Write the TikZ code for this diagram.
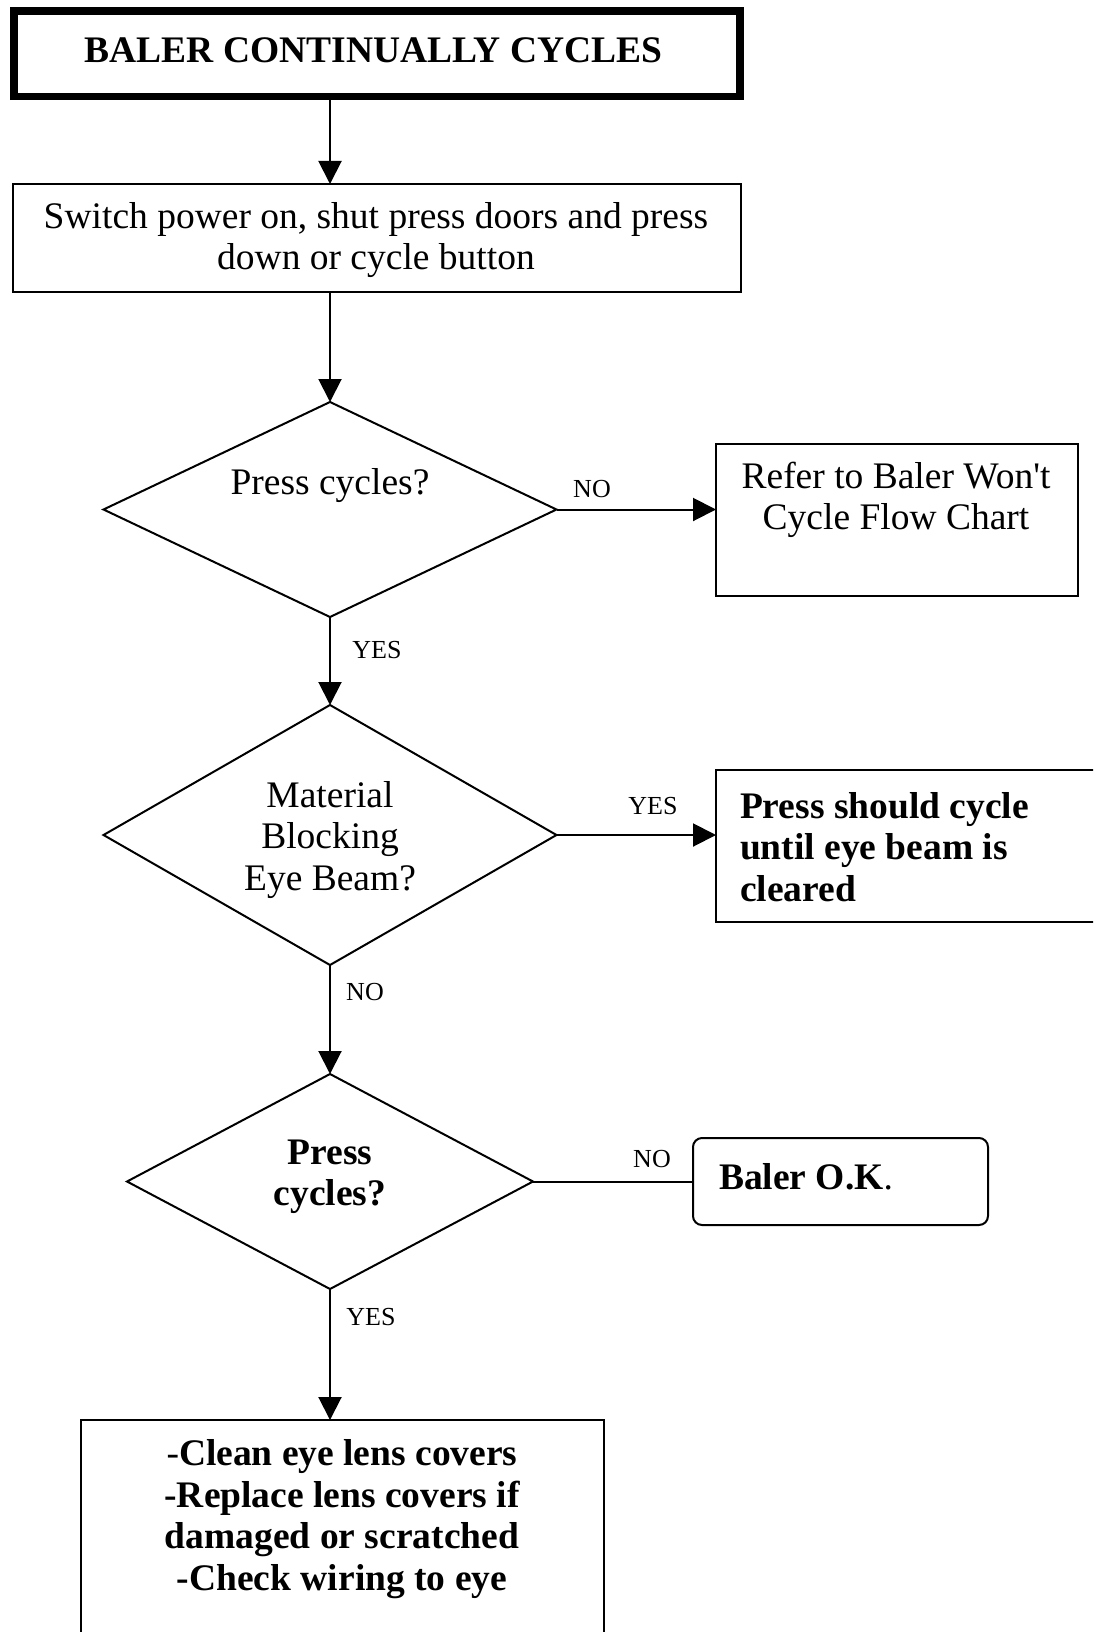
\documentclass[tikz,border=0pt]{standalone}
\usepackage{fontspec}
\setmainfont{Liberation Serif}[Ligatures=TeXOff]
\usetikzlibrary{arrows.meta,shapes.geometric}
\begin{document}
\begin{tikzpicture}[x=1pt,y=-1pt,
  every node/.style={inner sep=0pt, outer sep=0pt},
  box/.style={draw, line width=2pt, rectangle},
  titlebox/.style={draw, line width=7.5pt, rectangle},
  dec/.style={draw, line width=2pt, diamond},
  okbox/.style={draw, line width=2pt, rectangle, rounded corners=9pt},
  txt/.style={font=\fontsize{37.5}{41.5}\selectfont, align=center},
  btxt/.style={font=\fontsize{37.5}{41.5}\selectfont\bfseries, align=center},
  lbl/.style={font=\fontsize{26}{30}\selectfont},
  arr/.style={line width=2pt, -{Triangle[length=23pt,width=23pt]}},
  ln/.style={line width=2pt},
]
\clip (0,0) rectangle (1093,1632);
\fill[white] (0,0) rectangle (1093,1632);

% shapes
\node[titlebox, minimum width=726, minimum height=85.5] (title) at (377,53.75) {};
\node[box, minimum width=728, minimum height=108] (b2) at (377,238) {};
\node[dec, minimum width=453, minimum height=215] (d1) at (330,509.5) {};
\node[box, minimum width=362, minimum height=152] (refer) at (897,520) {};
\node[dec, minimum width=453, minimum height=260] (d2) at (330,835) {};
\node[box, minimum width=394, minimum height=152] (press) at (913,846) {};
\node[dec, minimum width=406, minimum height=215] (d3) at (330,1181.5) {};
\node[okbox, minimum width=295, minimum height=87] (ok) at (840.5,1181.5) {};
\node[box, minimum width=523, minimum height=240] (fix) at (342.5,1540) {};

% texts
\node[btxt] (titlet) at (373.5,50) {BALER CONTINUALLY CYCLES};
\node[txt] (b2t) at (376,240) {Switch power on, shut press doors and press\\down or cycle button};
\node[txt] (d1t) at (330,486) {Press cycles?};
\node[txt] (refert) at (896,500) {Refer to Baler Won't\\Cycle Flow Chart};
\node[txt] (d2t) at (330,840) {Material\\Blocking\\Eye Beam?};
\node[btxt, align=left, anchor=west] (presst) at (740,847) {Press should cycle\\until eye beam is\\cleared};
\node[btxt] (d3t) at (330,1177) {Press\\cycles?};
\node[btxt, anchor=west] (okt) at (719,1177) {Baler O.K{\mdseries.}};
\node[btxt] (fixt) at (342,1519) {{\mdseries-}Clean eye lens covers\\-Replace lens covers if\\damaged or scratched\\-Check wiring to eye};

% connectors
\draw[arr] (title.south -| d1.north) -- (b2.north -| d1.north);
\draw[arr] (b2.south -| d1.north) -- (d1.north);
\draw[arr] (d1.east) -- (d1.east -| refer.west);
\draw[arr] (d1.south) -- (d2.north);
\draw[arr] (d2.east) -- (d2.east -| press.west);
\draw[arr] (d2.south) -- (d3.north);
\draw[ln] (d3.east) -- (d3.east -| ok.west);
\draw[arr] (d3.south) -- (d3.south |- fix.north);

% labels
\node[lbl] (l1) at (592,489) {NO};
\node[lbl] (l2) at (377,650) {YES};
\node[lbl] (l3) at (653,806) {YES};
\node[lbl] (l4) at (365,992) {NO};
\node[lbl] (l5) at (652,1159) {NO};
\node[lbl] (l6) at (371,1317) {YES};
\end{tikzpicture}
\end{document}
